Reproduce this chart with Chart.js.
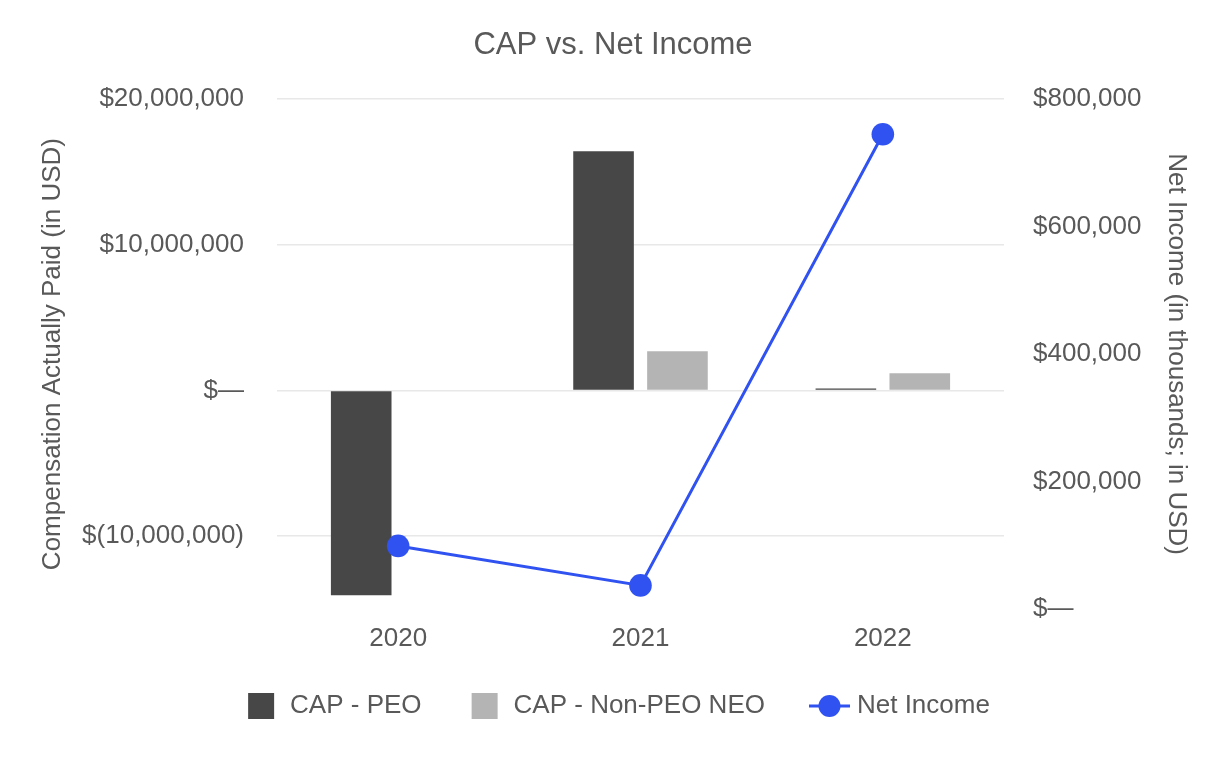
<!DOCTYPE html>
<html>
<head>
<meta charset="utf-8">
<title>CAP vs. Net Income</title>
<script src="https://cdn.jsdelivr.net/npm/chart.js@4"></script>
<style>
  html, body { margin: 0; padding: 0; background: #fff; }
  #wrap { width: 1226px; height: 760px; }
</style>
</head>
<body>
<div id="wrap"><canvas id="myChart" width="1226" height="760"></canvas></div>
<script>
'use strict';

let years = ['2020', '2021', '2022'];
let capPeo = [-14050000, 16420000, 130000];
let capNonPeo = [null, 2700000, 1190000];
let netIncome = [99000, 37000, 745000];
let leftTicks = [20000000, 10000000, 0, -10000000];

let textColor = '#595959';
let fontFamily = '"Liberation Sans", Arial, Helvetica, sans-serif';
let peoColor = '#474747';
let nonPeoColor = '#b4b4b4';
let lineColor = '#3052f0';

function money(v) {
  if (v === 0) return '$\u2014';
  let s = Math.abs(v).toLocaleString('en-US');
  return v < 0 ? '$(' + s + ')' : '$' + s;
}

// legend markers drawn on little canvases (12px blank on the left = extra gap between items)
function boxMarker(color) {
  let c = document.createElement('canvas');
  c.width = 41;
  c.height = 26;
  let g = c.getContext('2d');
  g.fillStyle = color;
  g.fillRect(12, 0, 26, 26);
  return c;
}

function lineMarker(color) {
  let c = document.createElement('canvas');
  c.width = 53;
  c.height = 26;
  let g = c.getContext('2d');
  g.strokeStyle = color;
  g.lineWidth = 3;
  g.beginPath();
  g.moveTo(12, 13);
  g.lineTo(53, 13);
  g.stroke();
  g.fillStyle = color;
  g.beginPath();
  g.arc(32.5, 13, 11, 0, Math.PI * 2);
  g.fill();
  return c;
}

let markers = [boxMarker(peoColor), boxMarker(nonPeoColor), lineMarker(lineColor)];

let ctx = document.getElementById('myChart').getContext('2d');
let myChart = new Chart(ctx, {
  type: 'bar',
  data: {
    labels: years,
    datasets: [{
      label: 'CAP - PEO',
      data: capPeo,
      backgroundColor: peoColor,
      yAxisID: 'y',
      order: 2,
      categoryPercentage: 0.61,
      barPercentage: 0.82
    }, {
      label: 'CAP - Non-PEO NEO',
      data: capNonPeo,
      backgroundColor: nonPeoColor,
      yAxisID: 'y',
      order: 2,
      categoryPercentage: 0.61,
      barPercentage: 0.82
    }, {
      type: 'line',
      label: 'Net Income',
      data: netIncome,
      borderColor: lineColor,
      backgroundColor: lineColor,
      borderWidth: 3,
      pointRadius: 11.3,
      pointHoverRadius: 11.3,
      pointBorderWidth: 0,
      tension: 0,
      yAxisID: 'y1',
      order: 1
    }]
  },
  options: {
    responsive: false,
    animation: false,
    layout: { padding: { top: 10, left: 10, right: 10, bottom: 31 } },
    plugins: {
      title: {
        display: true,
        text: 'CAP vs. Net Income',
        color: textColor,
        font: { family: fontFamily, size: 31, weight: 'normal' },
        padding: { top: 17, bottom: 35 }
      },
      legend: {
        position: 'bottom',
        labels: {
          color: textColor,
          font: { family: fontFamily, size: 26 },
          usePointStyle: true,
          pointStyleWidth: 41,
          boxHeight: 26,
          padding: 38,
          generateLabels: function(chart) {
            return chart.data.datasets.map(function(ds, i) {
              return {
                text: ds.label,
                fillStyle: ds.backgroundColor,
                strokeStyle: ds.backgroundColor,
                lineWidth: 0,
                pointStyle: markers[i],
                fontColor: textColor,
                hidden: !chart.isDatasetVisible(i),
                datasetIndex: i
              };
            });
          }
        }
      },
      tooltip: { enabled: false }
    },
    scales: {
      x: {
        grid: { display: false, drawTicks: false },
        border: { display: false },
        ticks: {
          color: textColor,
          font: { family: fontFamily, size: 26 },
          padding: 14
        },
        afterFit: function(scale) { scale.height = 46; }
      },
      y: {
        position: 'left',
        min: -15000000,
        max: 20000000,
        afterBuildTicks: function(scale) {
          scale.ticks = leftTicks.map(function(v) { return { value: v }; });
        },
        afterFit: function(scale) { scale.width = 267; },
        grid: { color: '#e8e8e8', lineWidth: 1.5, drawTicks: false },
        border: { display: false },
        ticks: {
          color: textColor,
          font: { family: fontFamily, size: 26 },
          padding: 33,
          callback: function(v) { return money(v); }
        },
        title: {
          display: true,
          text: 'Compensation Actually Paid (in USD)',
          color: textColor,
          font: { family: fontFamily, size: 26 },
          padding: { top: 27, bottom: 12 }
        }
      },
      y1: {
        position: 'right',
        min: 0,
        max: 800000,
        afterFit: function(scale) { scale.width = 212; },
        grid: { display: false, drawTicks: false },
        border: { display: false },
        ticks: {
          stepSize: 200000,
          color: textColor,
          font: { family: fontFamily, size: 26 },
          padding: 29,
          callback: function(v) { return money(v); }
        },
        title: {
          display: true,
          text: 'Net Income (in thousands; in USD)',
          color: textColor,
          font: { family: fontFamily, size: 26 },
          padding: { top: 24, bottom: 19 }
        }
      }
    }
  }
});
</script>
</body>
</html>
